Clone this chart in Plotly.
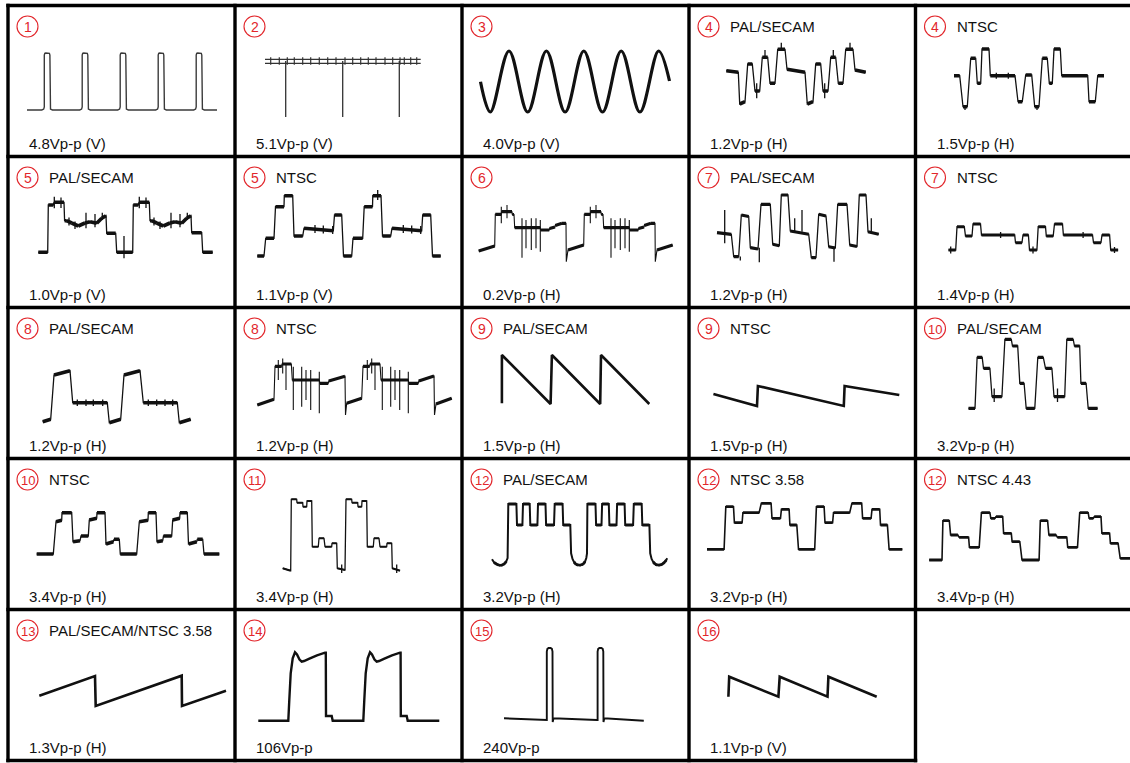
import plotly.graph_objects as go

# ---------------------------------------------------------------------------
# Page geometry (pixels) and styling
# ---------------------------------------------------------------------------
FIG_W, FIG_H = 1130, 763
COL_LEFT = [8, 235, 462, 689, 915.5]
ROW_TOP = [5.5, 156.5, 307.5, 458.5, 609.5]
CELL_W, CELL_H = 227, 151
RED = "#e2262b"
INK = "#111111"
FONT = "Liberation Sans, Arial, Helvetica, sans-serif"

# ---------------------------------------------------------------------------
# Panel captions
# ---------------------------------------------------------------------------
panel_numbers = ["1", "2", "3", "4", "4",
                 "5", "5", "6", "7", "7",
                 "8", "8", "9", "9", "10",
                 "10", "11", "12", "12", "12",
                 "13", "14", "15", "16"]
panel_titles = ["", "", "", "PAL/SECAM", "NTSC",
                "PAL/SECAM", "NTSC", "", "PAL/SECAM", "NTSC",
                "PAL/SECAM", "NTSC", "PAL/SECAM", "NTSC", "PAL/SECAM",
                "NTSC", "", "PAL/SECAM", "NTSC 3.58", "NTSC 4.43",
                "PAL/SECAM/NTSC 3.58", "", "", ""]
panel_levels = ["4.8Vp-p (V)", "5.1Vp-p (V)", "4.0Vp-p (V)", "1.2Vp-p (H)", "1.5Vp-p (H)",
                "1.0Vp-p (V)", "1.1Vp-p (V)", "0.2Vp-p (H)", "1.2Vp-p (H)", "1.4Vp-p (H)",
                "1.2Vp-p (H)", "1.2Vp-p (H)", "1.5Vp-p (H)", "1.5Vp-p (H)", "3.2Vp-p (H)",
                "3.4Vp-p (H)", "3.4Vp-p (H)", "3.2Vp-p (H)", "3.2Vp-p (H)", "3.4Vp-p (H)",
                "1.3Vp-p (H)", "106Vp-p", "240Vp-p", "1.1Vp-p (V)"]

# ---------------------------------------------------------------------------
# Waveform traces (t = time, v = level, in screen units of each panel)
# ---------------------------------------------------------------------------
# (1) vertical pulse train
w1_rise = [36.3, 74.2, 112.2, 150.2, 188.2]
w1_fall = [41.9, 79.8, 117.8, 155.8, 193.8]
w1_low, w1_high = 46.5, 103.5
w1_span = [19, 209]

# (2) comb with three long drops
w2_rail_t = [30, 185.7]
w2_rail_v = [97.2, 93.2]
w2_tick_t = [35.7, 44.3, 52.3, 59.3, 67.7, 75.7, 84.3, 92.7, 101, 110, 117.7, 125.7,
             133.3, 141, 150, 157.7, 165, 169.3, 175.7, 181.7]
w2_tick_lo, w2_tick_hi = 91.8, 99.2
w2_drop_t = [50.7, 107.7, 164.3]
w2_drop_lo, w2_drop_hi = 39.5, 95.5

# (3) sine
w3_t = [18.5, 28.3, 47, 65.7, 84.4, 103.1, 121.8, 140.5, 159.2, 177.9, 196.6, 207.5]
w3_v = [74.8, 44.5, 105.5, 44.5, 105.5, 44.5, 105.5, 44.5, 105.5, 44.5, 105.5, 75.5]

# (4) PAL/SECAM
w4p_t = [37.3, 49.3, 50.7, 56, 58.7, 63.3, 66, 70.7, 73.3, 78.7, 81, 86, 88.7, 96, 98, 116,
         118.3, 124, 126.7, 131.7, 134, 139, 141.7, 146.7, 149.3, 154, 156.7, 164, 166, 176.7]
w4p_v = [85.8, 84.2, 52.5, 54.8, 92.5, 92.5, 65.5, 65.5, 99.2, 99.2, 73.2, 73.2, 107.2, 107.2,
         87.2, 84.2, 52.5, 54.8, 92.5, 92.5, 65.5, 65.5, 99.2, 99.2, 73.2, 73.2, 107.2, 107.2,
         86.5, 84.2]
w4p_spk_t = [67.7, 76, 92.3, 135.7, 144.3, 161]
w4p_spk_lo = [58.2, 99.2, 107.2, 58.2, 99.2, 107.2]
w4p_spk_hi = [73.2, 106.5, 113.8, 73.2, 106.5, 113.8]

# (4) NTSC
w4n_t = [38.5, 44.2, 47.5, 51.8, 55.2, 60.2, 61.8, 65.2, 66.5, 73.5, 74.8, 99.5, 102.5, 106.8,
         110.2, 116.2, 119.2, 123.5, 126.8, 131.8, 133.8, 136.8, 138.5, 144.8, 146.2, 172.2,
         173.5, 179.8, 182.2, 188.5]
w4n_v = [80.8, 80.8, 49.8, 49.8, 98.2, 98.2, 73.2, 73.2, 107.5, 107.5, 80.8, 80.8, 54.8, 54.8,
         81.5, 81.5, 49.8, 49.8, 98.2, 98.2, 73.2, 73.2, 107.5, 107.5, 80.8, 80.8, 54.8, 54.8,
         80.8, 80.8]
w4n_spk_t = [49.5, 80.8, 92.8, 121.5]
w4n_spk_lo = [46.5, 77.8, 77.8, 46.5]
w4n_spk_hi = [49.8, 83.8, 83.8, 49.8]

# (5) PAL/SECAM
w5p_t = [30.3, 39.7, 40.3, 45.3, 46, 56, 56.6, 58.7, 63.7, 70.3, 77, 82, 88.7, 93.7, 98, 98.7,
         107.7, 108.7, 124.7, 125.3, 130.3, 131, 141.3, 142, 143.7, 148.7, 155.3, 162, 167,
         173.7, 178.7, 183, 183.7, 193.7, 194.7, 204.7]
w5p_v = [55.2, 55.2, 102.5, 102.5, 105.2, 105.2, 86.8, 86.8, 84.5, 81.5, 84.5, 85.8, 84.2, 89.2,
         91.8, 74.2, 74.2, 55.2, 55.2, 102.5, 102.5, 105.2, 105.2, 86.8, 86.8, 84.5, 81.5, 84.5,
         85.8, 84.2, 89.2, 91.8, 74.8, 74.8, 55.2, 55.2]
w5p_spk_t = [46.3, 53, 61, 67, 78, 87, 94.3, 116, 131.3, 138, 146, 152, 163, 172, 179.3]
w5p_spk_lo = [99.2, 99.5, 82, 78.5, 79.2, 80.2, 87.5, 49.2, 99.2, 99.5, 82, 78.5, 79.2, 80.2, 87.5]
w5p_spk_hi = [110.8, 110, 90, 86, 94.8, 93.5, 94.8, 71.5, 110.8, 110, 90, 86, 94.8, 93.5, 94.8]

# (5) NTSC
w5n_t = [22.3, 29, 30.7, 39, 40.5, 49, 49.3, 57.7, 59, 67.7, 69, 98.3, 99.5, 106.7, 108.5,
         116.7, 118, 127.7, 129.2, 137.5, 137.8, 146, 147.5, 155.7, 157, 186.7, 187.7, 195.7,
         197.5, 205.7]
w5n_v = [51.5, 51.5, 69.2, 69.2, 100.8, 100.8, 111.8, 111.8, 71.5, 71.5, 79.2, 76.8, 92.5, 92.5,
         51.5, 51.5, 69.2, 69.2, 100.8, 100.8, 111.8, 111.8, 71.5, 71.5, 79.2, 76.8, 92.5, 92.5,
         51.5, 51.5]
w5n_spk_t = [80, 88.3, 97.7, 142.7, 168.3, 176.7, 185.7]
w5n_spk_lo = [74.5, 74, 73.5, 107.5, 74.5, 74, 73.5]
w5n_spk_hi = [82.5, 82, 81.5, 117.5, 82.5, 82, 81.5]

# (6)
w6_t = [16.7, 32.7, 33.3, 39.3, 39.6, 50, 50.3, 52, 52.7, 78.3, 78.6, 87.3, 87.6, 93, 93.3, 100,
        104, 104.3, 106, 121.7, 122.3, 128.3, 128.6, 139, 139.3, 141, 141.7, 167.3, 167.6, 176.3,
        176.6, 182, 182.3, 189, 193, 193.3, 195, 210.7]
w6_v = [56.5, 61.5, 93.2, 93.2, 95.8, 95.8, 93, 93, 79.8, 79.8, 77.5, 77.5, 79, 80.5, 82, 84.2,
        84.2, 45.8, 57.5, 62.5, 93.2, 93.2, 95.8, 95.8, 93, 93, 79.8, 79.8, 77.5, 77.5, 79, 80.5,
        82, 84.2, 84.2, 45.8, 57.5, 62.5]
w6_spk_t = [39.3, 45, 60, 64, 69.3, 74, 78.3, 128.3, 134, 149, 153, 158.3, 163, 167.3]
w6_spk_lo = [84.2, 89.2, 49.8, 59.2, 57.5, 59.2, 55.8, 84.2, 89.2, 49.8, 59.2, 57.5, 59.2, 55.8]
w6_spk_hi = [100.8, 102.5, 89.2, 87.5, 89.2, 89.2, 87.5, 100.8, 102.5, 89.2, 87.5, 89.2, 89.2, 87.5]

# (7) PAL/SECAM
w7p_t = [28, 42.3, 44.7, 49.7, 52.3, 59.7, 61.3, 69, 72, 81.3, 83.7, 90.3, 92.3, 99, 101.3,
         119.7, 122.3, 127, 129.7, 137, 139.7, 146.3, 148.7, 158, 160.7, 168, 170.3, 177, 179,
         189.7]
w7p_v = [74.8, 73.2, 50.8, 50.8, 92.5, 91, 59.8, 58.5, 103.2, 103.2, 63.2, 61.8, 112.5, 112.5,
         76.5, 73.2, 49.8, 49.8, 93.2, 91.5, 60.8, 59.5, 103.2, 103.2, 62.5, 61, 112.5, 112.5,
         75.8, 73.2]
w7p_spk_t = [35.7, 70.3, 105.7, 113, 145, 182.3, 51.3]
w7p_spk_lo = [64.2, 45.2, 75.8, 75.8, 45.8, 75.8, 47]
w7p_spk_hi = [97.5, 59.8, 89.2, 97.5, 60.8, 89.2, 51]

# (7) NTSC
w7n_t = [33, 40.2, 41.5, 48.8, 50, 56.5, 57.5, 65, 66, 99.2, 100, 106.5, 107.5, 112.9, 114,
         121.4, 122.7, 130, 130.8, 137.7, 139, 147, 147.9, 177, 178, 185.5, 186.5, 194.1, 195.2,
         202.6]
w7n_v = [57.5, 57.5, 80.8, 80.8, 71.5, 71.5, 83.5, 83.5, 72.5, 72.5, 64.8, 64.8, 72.5, 72.5,
         57.5, 57.5, 80.8, 80.8, 71.5, 71.5, 83.5, 83.5, 72.5, 72.5, 64.8, 64.8, 72.5, 72.5,
         57.5, 57.5]
w7n_spk_t = [35.2, 85.1, 117.5, 167.6, 199]
w7n_spk_lo = [54, 69.5, 54, 69.5, 54.5]
w7n_spk_hi = [61, 75.5, 61, 75.5, 60.5]

# (8) PAL/SECAM
w8p_t = [34.7, 42.7, 46, 62, 64.7, 99.3, 101.3, 112.7, 116, 132, 135.3, 169.3, 171.3, 182.7]
w8p_v = [36.8, 39.2, 83.5, 87.8, 55.8, 55.8, 35.8, 39.2, 83.5, 87.8, 55.8, 55.8, 35.8, 39.2]
w8p_spk_t = [69.3, 78, 85.3, 94.7, 140.3, 148.7, 157, 164.7]
w8p_spk_lo = [52.5] * 8
w8p_spk_hi = [59] * 8

# (8) NTSC
w8n_t = [22.3, 39, 40, 46.7, 47, 56.3, 57.3, 84.3, 84.8, 93.3, 93.8, 110, 110.5, 111.7, 126.7,
         128, 134.7, 135, 145, 146, 173.3, 173.8, 183.3, 183.8, 199, 199.5, 201, 216.7]
w8n_v = [53.5, 59.2, 92.2, 92.2, 94.5, 94.5, 78.5, 78.5, 75.2, 75.2, 77.5, 82.2, 43.5, 55.2, 60.2,
         92.2, 92.2, 94.5, 94.5, 78.5, 78.5, 75.2, 75.2, 77.5, 82.5, 43.5, 54.5, 60.2]
w8n_spk_t = [43.3, 47.7, 51, 58.3, 66.7, 71, 75.7, 84.3, 132.3, 136.7, 140, 147.3, 155.7, 160,
             164.7, 173.3]
w8n_spk_lo = [78.5, 85, 68.5, 48.5, 51.8, 58.5, 48.5, 45.2, 78.5, 85, 68.5, 48.5, 51.8, 58.5,
              48.5, 45.2]
w8n_spk_hi = [98.5, 100, 95.2, 91.8, 91.8, 88.5, 88.5, 86.8, 98.5, 100, 95.2, 91.8, 91.8, 88.5,
              88.5, 86.8]

# (9) sawtooth falling / rising
w9p_t = [39.9, 39.9, 88.6, 89.9, 138.2, 139, 187.3]
w9p_v = [55.2, 103.5, 54.5, 103.5, 54.5, 103.5, 54.5]
w9n_t = [24.4, 68, 68.9, 154.8, 155.6, 210.3]
w9n_v = [64.5, 52.5, 72.5, 52.5, 72.5, 63.5]

# (10) PAL/SECAM
w10p_t = [53, 59.5, 61.6, 66.7, 68, 74.4, 76.5, 86.4, 89.4, 95.8, 97, 102.2, 104.3, 108.6,
          110.7, 119.3, 122.3, 127.8, 130, 136.4, 138.5, 149.2, 151.3, 157.7, 159, 164.2, 165.4,
          170.6, 172.7, 182.1]
w10p_v = [50.2, 50.2, 101.2, 101.2, 90.2, 90.2, 61.8, 61.8, 119.2, 119.2, 112.5, 112.5, 75.2,
          75.2, 50.2, 50.2, 101.2, 101.2, 90.2, 90.2, 61.8, 61.8, 119.2, 119.2, 112.5, 112.5,
          75.2, 75.2, 50.2, 50.2]
w10p_spk_t = [78.7, 142]
w10p_spk_lo = [56.5, 56.5]
w10p_spk_hi = [70, 70]

# (10) NTSC
w10n_t = [28.7, 45.3, 48, 53.7, 54, 63.7, 65, 72, 73, 80.3, 81.3, 88.7, 89, 97, 98, 105.3, 106,
          111.3, 112.3, 128.7, 131.3, 140, 140.3, 148, 149, 154.7, 155.5, 163.7, 164.7, 171.7,
          172, 179.3, 180.5, 188.7, 189.3, 194.7, 196, 211.3]
w10n_v = [55.5, 55.5, 87.8, 89.3, 96.8, 96.8, 67.8, 68.8, 73.5, 73.5, 89.5, 91.2, 96.8, 96.8,
          65.5, 67.8, 70.2, 70.2, 55.5, 55.5, 87.8, 89.3, 96.8, 96.8, 67.8, 68.8, 73.5, 73.5,
          89.5, 91.2, 96.8, 96.8, 65.5, 67.8, 70.2, 70.2, 55.5, 55.5]

# (11)
w11_t = [47.7, 55.7, 56.3, 61.7, 62, 67.7, 68, 71.7, 72, 76.7, 77.3, 83.3, 84, 89, 90, 96.7, 97,
         101.7, 102.3, 110, 111, 116.7, 117, 122.7, 123, 126.7, 127, 131.7, 132.3, 138.3, 139,
         144, 145, 151.7, 152, 156.7, 157.3, 165]
w11_v = [41.2, 38.8, 110.2, 110.2, 106.8, 106.8, 102.8, 102.8, 108.5, 108.5, 62.8, 62.8, 71.2,
         71.2, 62.8, 62.8, 66.2, 66.2, 41.2, 39.5, 110.2, 110.2, 106.8, 106.8, 102.8, 102.8,
         108.5, 108.5, 62.8, 62.8, 71.2, 71.2, 62.8, 62.8, 66.2, 66.2, 41.2, 38.8]
w11_spk_t = [106.7, 161.7]
w11_spk_lo = [36.5, 36.5]
w11_spk_hi = [45, 45]

# (12) PAL/SECAM
w12p_t = [30, 32, 34.3, 36.5, 38.6, 40.8, 42.9, 44.3, 45.6,
          46.3, 54.4, 55, 60.4, 61, 67.7, 68.3, 75.4, 76, 83.5, 84.1, 92, 92.7, 100.6, 101.2, 108.3,
          109.1, 110.5, 112, 114, 116.5, 119, 121.3, 123, 124.3, 125,
          125.4, 133.5, 134.1, 139.5, 140.1, 146.8, 147.4, 154.5, 155.1, 162.6, 163.2, 171.1,
          171.8, 179.7, 180.3, 187.4,
          188.2, 189.6, 191.2, 193.3, 195.8, 198.3, 200.7, 202.8, 204.3, 205.3]
w12p_v = [50.2, 47.2, 45.5, 44.4, 44.2, 44.6, 46.2, 48.2, 51.5,
          105.5, 105.5, 84.5, 84.5, 105.5, 105.5, 84.5, 84.5, 105.5, 105.5, 84.5, 84.5, 105.5,
          105.5, 84.5, 84.5,
          56.2, 50.5, 47.5, 45.2, 44.4, 44.4, 45.5, 47.8, 51.5, 56,
          105.5, 105.5, 84.5, 84.5, 105.5, 105.5, 84.5, 84.5, 105.5, 105.5, 84.5, 84.5, 105.5,
          105.5, 84.5, 84.5,
          56.2, 50.5, 47.5, 45.2, 44.4, 44.5, 45.6, 47.5, 49.5, 51.2]

# (12) NTSC 3.58 -- stepped levels: start, end, level
w12a_t0 = [18, 36.8, 45.4, 53.9, 72.3, 83, 92.4, 100.9, 109.5, 127.4, 136, 144.5, 162.9, 173.6,
           183, 191.5, 200.1]
w12a_t1 = [35.1, 44.5, 53.1, 70.1, 82.1, 91.5, 100.1, 107.8, 125.7, 135.1, 143.6, 160.7, 172.7,
           182.1, 190.7, 198.4, 213.3]
w12a_lv = [60.2, 102.8, 86.8, 96.8, 106.2, 91.2, 100.2, 84.5, 60.2, 102.8, 86.8, 96.8, 106.2,
           91.2, 100.2, 84.5, 60.2]

# (12) NTSC 4.43
w12b_t0 = [13.7, 27.4, 35.1, 43.6, 53.9, 65.9, 75.3, 80.4, 88.1, 96.6, 106.5, 124.8, 133.4,
           141.9, 152.2, 164.2, 173.6, 178.7, 186.4, 194.9, 204.7]
w12b_t1 = [26.5, 33.8, 42.4, 53.1, 63.7, 74.4, 79.6, 87.2, 95.8, 104.3, 123.6, 132.1, 140.6,
           151.3, 162, 172.7, 177.9, 185.5, 194.1, 202.6, 225]
w12b_lv = [49.5, 88.8, 74.5, 72.2, 62.2, 96.8, 91.2, 92.8, 76.2, 67.8, 49.5, 88.8, 74.5, 72.2,
           62.2, 96.8, 91.2, 92.8, 76.2, 66.2, 51.2]

# (13) rising sawtooth
w13_t = [31.3, 87, 87.7, 173.7, 174, 218]
w13_v = [64.8, 84.5, 54.5, 84.8, 54.5, 69.8]

# (14)
w14_t = [23.3, 53.3, 54.3, 55.7, 57.7, 60, 62, 64.5, 66.7, 69, 75, 82, 90, 90.8, 91, 96.7, 97.7,
         128.3, 129.3, 130.7, 132.7, 135, 137, 139.5, 141.7, 144, 150, 157, 165, 165.6, 165.8,
         171.7, 172.7, 204.3]
w14_v = [39.8, 39.8, 60.5, 87.2, 102.2, 108.2, 106, 101, 98.8, 99.5, 102.2, 105.2, 107.8, 107.8,
         44.5, 44.5, 39.8, 39.8, 60.5, 87.2, 102.2, 108.2, 106, 101, 98.8, 99.5, 102.2, 105.2,
         107.8, 107.8, 44.5, 44.5, 39.8, 39.8]

# (15)
w15_t = [42, 83.5, 84.8, 84.8, 85.4, 86.6, 88.6, 89.9, 90.5, 90.7, 91.5, 134.8, 135.6, 135.6,
         136.2, 137.4, 139.4, 140.7, 141.3, 141.5, 142.3, 181.8]
w15_v = [42.2, 40.5, 40.5, 109, 111.6, 112.5, 112.5, 111.6, 109, 38.5, 42.2, 40.5, 40.5, 109,
         111.6, 112.5, 112.5, 111.6, 109, 38.5, 42.2, 39.8]

# (16) falling sawtooth
w16_t = [39.4, 40.2, 89.4, 90.7, 138.5, 139.4, 187.7]
w16_v = [63.8, 83.8, 63.8, 83.8, 63.8, 83.8, 63.8]


# ---------------------------------------------------------------------------
# Helpers that turn the arrays above into plotly traces
# ---------------------------------------------------------------------------
def pulse_path(span, rises, falls, low, high):
    t, v = [span[0]], [low]
    for r, f in zip(rises, falls):
        t += [r - 2.5, r - 0.6, r, r, r + 0.5, r + 1.5, f - 1.5, f - 0.5, f, f, f + 0.6, f + 2.5]
        v += [low, low + 0.9, low + 3, high - 2, high - 0.4, high, high, high - 0.4, high - 2,
              low + 3, low + 0.9, low]
    t.append(span[1])
    v.append(low)
    return t, v


def step_path(t0, t1, lv):
    t, v = [], []
    for a, b, y in zip(t0, t1, lv):
        t += [a, b]
        v += [y, y]
    return t, v


def flat_segments(t, v, ratio=1.5):
    xs, ys = [], []
    for i in range(len(t) - 1):
        dt, dv = t[i + 1] - t[i], v[i + 1] - v[i]
        if abs(dv) < ratio * abs(dt):
            xs += [t[i], t[i + 1], None]
            ys += [v[i], v[i + 1], None]
    return xs, ys


def bars(ts, lo, hi):
    if not isinstance(lo, list):
        lo = [lo] * len(ts)
    if not isinstance(hi, list):
        hi = [hi] * len(ts)
    xs, ys = [], []
    for t, a, b in zip(ts, lo, hi):
        xs += [t, t, None]
        ys += [a, b, None]
    return xs, ys


fig = go.Figure()


def axis_names(k):
    return ("x" if k == 0 else f"x{k + 1}"), ("y" if k == 0 else f"y{k + 1}")


def add_line(k, xs, ys, width, color=INK, shape="linear"):
    xa, ya = axis_names(k)
    fig.add_trace(go.Scatter(x=xs, y=ys, xaxis=xa, yaxis=ya, mode="lines",
                             line=dict(color=color, width=width, shape=shape),
                             hoverinfo="skip", showlegend=False))


def add_wave(k, t, v, thin, bold=None, spikes=None, color=INK, shape="linear", spike_w=None):
    add_line(k, t, v, thin, color, shape)
    if bold:
        bx, by = flat_segments(t, v)
        add_line(k, bx, by, bold, color)
    if spikes:
        sx, sy = bars(*spikes)
        add_line(k, sx, sy, spike_w or thin, color)


# panel 1
t1, v1 = pulse_path(w1_span, w1_rise, w1_fall, w1_low, w1_high)
add_wave(0, t1, v1, 1.4, color="#3a3a3a")
# panel 2
for rv in w2_rail_v:
    add_line(1, w2_rail_t, [rv, rv], 1.2, "#333333")
sx, sy = bars(w2_tick_t, w2_tick_lo, w2_tick_hi)
add_line(1, sx, sy, 1.2, "#333333")
sx, sy = bars(w2_drop_t, w2_drop_lo, w2_drop_hi)
add_line(1, sx, sy, 1.3, "#333333")
# panel 3
add_wave(2, w3_t, w3_v, 3.2, shape="spline")
# row 1, panels 4
add_wave(3, w4p_t, w4p_v, 1.3, 3.6, (w4p_spk_t, w4p_spk_lo, w4p_spk_hi))
add_wave(4, w4n_t, w4n_v, 1.3, 3.6, (w4n_spk_t, w4n_spk_lo, w4n_spk_hi))
# row 2
add_wave(5, w5p_t, w5p_v, 1.3, 3.6, (w5p_spk_t, w5p_spk_lo, w5p_spk_hi))
add_wave(6, w5n_t, w5n_v, 1.3, 3.6, (w5n_spk_t, w5n_spk_lo, w5n_spk_hi))
add_wave(7, w6_t, w6_v, 1.1, 3.2, (w6_spk_t, w6_spk_lo, w6_spk_hi))
add_wave(8, w7p_t, w7p_v, 1.3, 3.2, (w7p_spk_t, w7p_spk_lo, w7p_spk_hi))
add_wave(9, w7n_t, w7n_v, 1.3, 3.0, (w7n_spk_t, w7n_spk_lo, w7n_spk_hi))
# row 3
add_wave(10, w8p_t, w8p_v, 1.3, 3.6, (w8p_spk_t, w8p_spk_lo, w8p_spk_hi))
add_wave(11, w8n_t, w8n_v, 1.1, 3.2, (w8n_spk_t, w8n_spk_lo, w8n_spk_hi))
add_wave(12, w9p_t, w9p_v, 2.6)
add_wave(13, w9n_t, w9n_v, 2.6)
add_wave(14, w10p_t, w10p_v, 1.3, 3.2, (w10p_spk_t, w10p_spk_lo, w10p_spk_hi))
# row 4
add_wave(15, w10n_t, w10n_v, 1.3, 3.6)
add_wave(16, w11_t, w11_v, 1.3, 2.0, (w11_spk_t, w11_spk_lo, w11_spk_hi))
add_wave(17, w12p_t, w12p_v, 2.0, 2.8)
ta, va = step_path(w12a_t0, w12a_t1, w12a_lv)
add_wave(18, ta, va, 1.6, 2.8)
tb, vb = step_path(w12b_t0, w12b_t1, w12b_lv)
add_wave(19, tb, vb, 1.6, 2.8)
# row 5
add_wave(20, w13_t, w13_v, 2.6)
add_wave(21, w14_t, w14_v, 2.4)
add_wave(22, w15_t, w15_v, 1.9)
add_wave(23, w16_t, w16_v, 2.6)

# ---------------------------------------------------------------------------
# Axes: one hidden pair per panel, 1 unit = 1 px
# ---------------------------------------------------------------------------
layout_axes = {}
annotations = []
shapes = []


def px(x):
    return x / FIG_W


def py(y):
    return 1 - y / FIG_H


for k in range(len(panel_numbers)):
    col, row = k % 5, k // 5
    left, top = COL_LEFT[col], ROW_TOP[row]
    right = min(left + CELL_W, FIG_W)
    bottom = top + CELL_H
    xa, ya = axis_names(k)
    xkey = "xaxis" if k == 0 else f"xaxis{k + 1}"
    ykey = "yaxis" if k == 0 else f"yaxis{k + 1}"
    layout_axes[xkey] = dict(domain=[px(left), px(right)], range=[0, right - left], anchor=ya,
                             visible=False, fixedrange=True)
    layout_axes[ykey] = dict(domain=[py(bottom), py(top)], range=[0, CELL_H], anchor=xa,
                             visible=False, fixedrange=True)

    # circled number
    cx, cy, r = left + 19.5, top + 21, 10.5
    shapes.append(dict(type="circle", xref="paper", yref="paper",
                       x0=px(cx - r), x1=px(cx + r), y0=py(cy + r), y1=py(cy - r),
                       line=dict(color=RED, width=1.1)))
    num = panel_numbers[k]
    annotations.append(dict(xref="paper", yref="paper", x=px(cx), y=py(cy + 0.5),
                            text=num, showarrow=False, xanchor="center", yanchor="middle",
                            font=dict(family=FONT, size=14 if len(num) == 1 else 13, color=RED)))
    if panel_titles[k]:
        annotations.append(dict(xref="paper", yref="paper", x=px(left + 39), y=py(cy),
                                text=panel_titles[k], showarrow=False, xanchor="left",
                                yanchor="middle", font=dict(family=FONT, size=15, color=INK)))
    annotations.append(dict(xref="paper", yref="paper", x=px(left + 19), y=py(top + 138),
                            text=panel_levels[k], showarrow=False, xanchor="left",
                            yanchor="middle", font=dict(family=FONT, size=15, color=INK)))

# grid frame
GRID_W = 3.4
for y in ROW_TOP:
    shapes.append(dict(type="line", xref="paper", yref="paper", x0=px(COL_LEFT[0] - 1.7),
                       x1=1.0, y0=py(y), y1=py(y), line=dict(color="black", width=GRID_W)))
last_bottom = ROW_TOP[-1] + CELL_H
shapes.append(dict(type="line", xref="paper", yref="paper", x0=px(COL_LEFT[0] - 1.7),
                   x1=px(COL_LEFT[4] + 1.7), y0=py(last_bottom), y1=py(last_bottom),
                   line=dict(color="black", width=GRID_W)))
for x in COL_LEFT:
    shapes.append(dict(type="line", xref="paper", yref="paper", x0=px(x), x1=px(x),
                       y0=py(ROW_TOP[0] - 1.7), y1=py(last_bottom + 1.7),
                       line=dict(color="black", width=GRID_W)))

fig.update_layout(width=FIG_W, height=FIG_H, margin=dict(l=0, r=0, t=0, b=0),
                  paper_bgcolor="white", plot_bgcolor="rgba(0,0,0,0)",
                  annotations=annotations, shapes=shapes, **layout_axes)

fig.write_html("out.html")
